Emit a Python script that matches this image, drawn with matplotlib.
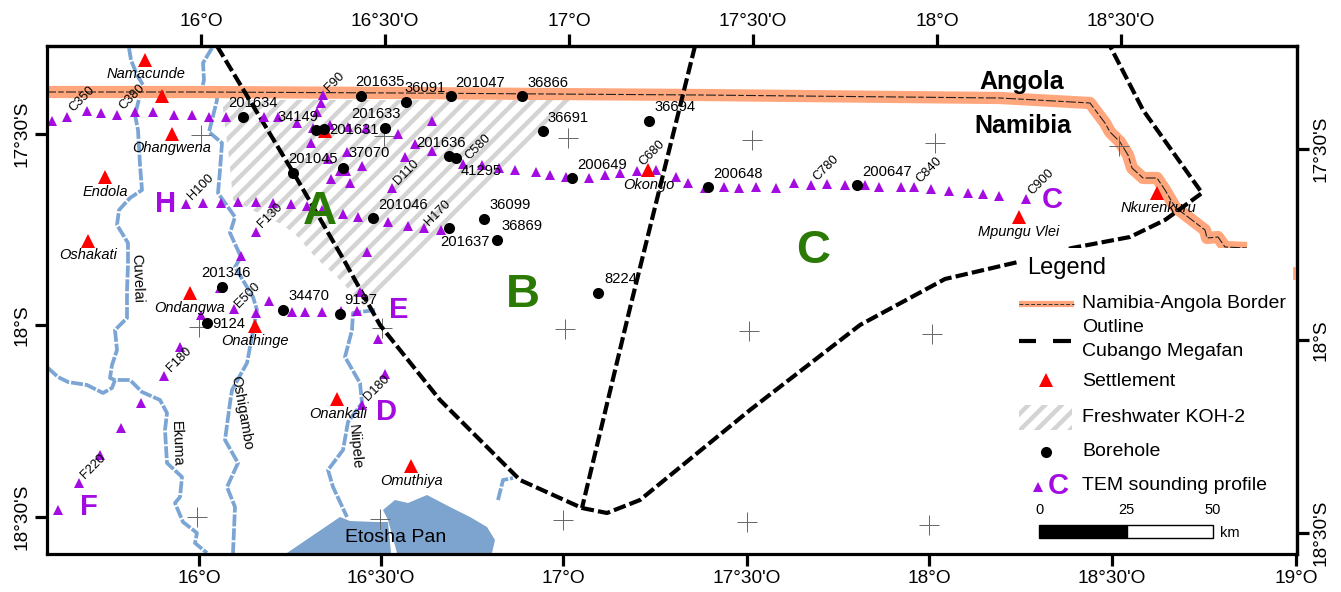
import matplotlib
matplotlib.use("Agg")
import matplotlib.pyplot as plt
from matplotlib.patches import Polygon, Rectangle

plt.rcParams['font.family'] = ['Liberation Sans', 'DejaVu Sans']
plt.rcParams['hatch.linewidth'] = 3.2

top_ticks = [201.5, 385, 569, 753, 937, 1121]
top_labels = ["16°O", "16°30'O", "17°O", "17°30'O", "18°O", "18°30'O"]
bottom_ticks = [199, 381, 563, 747, 929, 1112, 1296]
bottom_labels = ["16°O", "16°30'O", "17°O", "17°30'O", "18°O", "18°30'O", "19°O"]
left_ticks = [134, 325, 517]
right_ticks = [149, 340, 533]
lat_labels = ["17°30'S", "18°S", "18°30'S"]

grid_x = [201, 384, 568, 752, 935, 1119, 199, 382, 565, 749, 932, 197, 380, 563, 747, 929]
grid_y = [135, 136, 138, 140, 143, 146, 327, 328, 329, 331, 334, 517, 519, 520, 522, 525]

border_x = [46, 200, 400, 700, 1000, 1090, 1105, 1110, 1120, 1128, 1132, 1143, 1157, 1165, 1175, 1205, 1207, 1218, 1225, 1247]
border_y = [92, 92, 93, 95, 98, 103, 123, 132, 142, 155, 168, 178, 178, 190, 207, 230, 238, 237, 247, 248]

outline_x = [217, 293, 345, 380, 440, 520, 582, 607, 640, 750, 860, 945, 1018, 1072, 1130, 1165, 1202, 1143, 1110]
outline_y = [46, 172, 262, 325, 400, 480, 508, 513, 500, 410, 325, 279, 262, 248, 237, 220, 193, 110, 46]
outline2_x = [695, 660, 630, 582]
outline2_y = [46, 187, 308, 508]

cuvelai_x = [129, 131, 137, 143, 140, 135, 138, 140, 142, 130, 119, 117, 128, 128, 127, 127, 115, 117, 112, 110, 115]
cuvelai_y = [48, 60, 75, 85, 95, 115, 130, 165, 190, 198, 210, 225, 243, 265, 290, 318, 330, 350, 365, 378, 380]
ekuma_x = [48, 58, 68, 87, 103, 112, 115, 130, 142, 160, 167, 165, 167, 182, 180, 175, 183, 197, 195, 207]
ekuma_y = [368, 377, 382, 385, 393, 388, 380, 380, 392, 400, 413, 430, 463, 477, 497, 503, 522, 533, 543, 553]
oshigambo_x = [212, 203, 204, 202, 217, 217, 209, 222, 220, 218, 235, 230, 241, 235, 253, 257, 250, 247, 232, 230, 225, 238, 227, 235, 233]
oshigambo_y = [48, 63, 80, 88, 97, 100, 132, 143, 170, 193, 217, 233, 257, 267, 297, 310, 347, 363, 390, 403, 440, 463, 487, 507, 553]
niipele_x = [375, 353, 352, 345, 360, 362, 348, 343, 328, 333, 347]
niipele_y = [310, 313, 330, 357, 383, 403, 422, 450, 470, 487, 517]
pan_river_x = [498, 503, 513]
pan_river_y = [500, 480, 478]

hatch_x = [222, 578, 365, 337, 315, 298, 283, 252, 233, 230]
hatch_y = [100, 100, 307, 277, 257, 237, 225, 210, 200, 167]
pan1_x = [287, 340, 350, 375, 388, 391]
pan1_y = [553, 517, 521, 522, 522, 553]
pan2_x = [383, 395, 408, 427, 450, 470, 487, 495, 492, 397, 388]
pan2_y = [510, 500, 503, 495, 507, 517, 527, 540, 553, 553, 520]

tem_x = [52, 67, 87, 101, 117, 135, 153, 174, 192, 209, 226, 264, 278, 297, 313, 330, 348, 366, 398, 415, 432,
         323, 321, 317, 311, 328, 347, 432, 362, 405, 340, 346, 331, 350, 392,
         186, 203, 221, 238, 256, 273, 291, 307, 322, 343, 358, 388, 408, 424, 441,
         256, 367, 241, 360, 220, 269, 234, 201, 256, 292, 305, 322, 341, 357, 378, 385, 362,
         180, 164, 141, 121, 100, 79, 58,
         463, 482, 499, 515, 536, 550, 566, 589, 605, 620, 637, 656, 676, 688, 705, 724, 739, 756, 776,
         794, 811, 827, 845, 865, 879, 901, 914, 931, 949, 968, 983, 999, 1026]
tem_y = [121, 117, 111, 113, 115, 112, 112, 115, 115, 117, 117, 117, 117, 123, 128, 125, 127, 128, 134, 144, 151,
         95, 103, 112, 143, 159, 152, 121, 166, 157, 171, 171, 179, 183, 188,
         204, 203, 203, 202, 202, 203, 204, 206, 210, 214, 217, 222, 226, 228, 230,
         232, 252, 256, 292, 288, 301, 309, 315, 313, 312, 312, 312, 311, 311, 339, 374, 405,
         347, 376, 403, 428, 455, 483, 510,
         164, 165, 168, 170, 172, 175, 177, 178, 175, 173, 171, 170, 177, 183, 188, 187, 188, 187, 188,
         183, 185, 184, 185, 185, 187, 187, 187, 189, 191, 193, 194, 196, 199]

town_names = ["Namacunde", "Ohangwena", "Endola", "Oshakati", "Ondangwa", "Onathinge", "Onankali", "Omuthiya",
              "Okongo", "Mpungu Vlei", "Nkurenkuru"]
town_x = [145, 172, 105, 88, 190, 255, 337, 411, 648, 1019, 1157]
town_y = [60, 134, 177, 241, 293, 326, 399, 466, 170, 217, 193]
town_lx = [146, 172, 105, 88, 190, 255, 338, 412, 649, 1019, 1158]
town_ly = [74, 148, 192, 255, 308, 341, 414, 481, 185, 232, 208]
extra_town_x = [162, 325]
extra_town_y = [96, 131]

bore_names = ["201635", "36091", "201047", "36866", "201634", "34149", "201633", "201631", "37070", "201045",
              "201636", "41295", "36691", "36694", "200649", "200648", "200647", "36099", "36869", "201637",
              "201046", "201346", "34470", "9197", "9124", "8224"]
bore_x = [361, 406, 451, 522, 243, 316, 385, 324, 343, 293, 449, 456, 543, 649, 572, 708, 857, 484, 497, 449,
          373, 222, 283, 340, 207, 598]
bore_y = [96, 102, 96, 96, 117, 130, 128, 129, 168, 173, 156, 158, 131, 121, 178, 187, 185, 219, 240, 228,
          218, 287, 310, 314, 323, 293]
bore_lx = [380, 425, 480, 548, 253, 298, 376, 354, 369, 313, 441, 481, 568, 675, 602, 738, 887, 510, 522, 465,
           403, 226, 309, 361, 229, 621]
bore_ly = [82, 88, 83, 83, 103, 117, 114, 130, 153, 159, 143, 171, 118, 107, 165, 174, 172, 205, 226, 242,
           205, 273, 296, 300, 324, 279]

profile_names = ["C350", "C380", "F90", "H100", "F130", "D110", "H170", "C580", "C680", "C780", "C840", "C900",
                 "E500", "F180", "F220", "D180"]
profile_x = [82, 132, 335, 201, 270, 406, 438, 478, 652, 826, 929, 1041, 248, 179, 93, 377]
profile_y = [99, 97, 82, 187, 215, 172, 213, 147, 153, 168, 170, 182, 295, 359, 466, 388]

river_names = ["Cuvelai", "Ekuma", "Oshigambo", "Niipele"]
river_lx = [137, 177, 242, 355]
river_ly = [278, 444, 413, 447]
river_rot = [-88, -88, -80, -85]

zone_names = ["A", "B", "C"]
zone_x = [320, 523, 813]
zone_y = [212, 295, 251]
line_names = ["H", "E", "D", "F", "C"]
line_x = [166, 399, 387, 89, 1052]
line_y = [204, 310, 412, 507, 200]

scale_ticks = [0, 25, 50]
scale_x = [1039, 1126, 1213]

orange = '#FFA67C'
water = '#7BA5D5'
purple = '#A30BE0'
green = '#2A7A05'
hatch_col = '#D4D4D4'

fig = plt.figure(figsize=(13.41, 5.92), dpi=100)
ax = fig.add_axes([46.5 / 1341, 1 - 554 / 592, (1297 - 46.5) / 1341, (554 - 46) / 592])
ax.set_xlim(46.5, 1297)
ax.set_ylim(554, 46)

ax.plot(border_x, border_y, color=orange, lw=8.8, solid_capstyle='butt', solid_joinstyle='round', zorder=2)
ax.plot(border_x, border_y, color='#222222', lw=0.8, dashes=(9, 2, 5, 2), zorder=2.1)

ax.add_patch(Polygon(list(zip(pan1_x, pan1_y)), facecolor='#7DA3CF', edgecolor='none', zorder=1))
ax.add_patch(Polygon(list(zip(pan2_x, pan2_y)), facecolor='#7DA3CF', edgecolor='none', zorder=1))
ax.add_patch(Polygon(list(zip(hatch_x, hatch_y)), facecolor='none', edgecolor=hatch_col, hatch='//', lw=0, zorder=1.2))

for rx, ry in [(cuvelai_x, cuvelai_y), (ekuma_x, ekuma_y), (oshigambo_x, oshigambo_y),
               (niipele_x, niipele_y), (pan_river_x, pan_river_y)]:
    ax.plot(rx, ry, color=water, lw=2.7, dashes=(3.2, 0.5), zorder=1.5)

ax.plot(grid_x, grid_y, ls='none', marker='+', ms=14.5, mew=0.7, color='#666666', zorder=2.2)

ax.plot(outline_x, outline_y, color='k', lw=3, dashes=(3, 1), zorder=3)
ax.plot(outline2_x, outline2_y, color='k', lw=3, dashes=(3, 1), zorder=3)

ax.plot(tem_x, tem_y, ls='none', marker='^', ms=7.5, color=purple, mew=0, zorder=4)
ax.plot(town_x + extra_town_x, town_y + extra_town_y, ls='none', marker='^', ms=10.5, color='#FF0000', mew=0, zorder=4.2)
ax.plot(bore_x, bore_y, ls='none', marker='o', ms=8, color='k', mew=0, zorder=4.4)

for name, x, y in zip(town_names, town_lx, town_ly):
    ax.text(x, y, name, fontsize=10.5, style='italic', ha='center', va='center', zorder=5)
for name, x, y in zip(bore_names, bore_lx, bore_ly):
    ax.text(x, y, name, fontsize=10.6, ha='center', va='center', zorder=5)
for name, x, y in zip(profile_names, profile_x, profile_y):
    ax.text(x, y, name, fontsize=9.3, rotation=45, ha='center', va='center', zorder=5)
for name, x, y, r in zip(river_names, river_lx, river_ly, river_rot):
    ax.text(x, y, name, fontsize=10.5, rotation=r, ha='center', va='center', zorder=5)
for name, x, y in zip(zone_names, zone_x, zone_y):
    ax.text(x, y, name, fontsize=34, fontweight='bold', color=green, ha='center', va='center', zorder=5)
for name, x, y in zip(line_names, line_x, line_y):
    ax.text(x, y, name, fontsize=21, fontweight='bold', color=purple, ha='center', va='center', zorder=5)

ax.text(1022, 82, "Angola", fontsize=18, fontweight='bold', ha='center', va='center', zorder=5)
ax.text(1023, 126, "Namibia", fontsize=18, fontweight='bold', ha='center', va='center', zorder=5)
ax.text(396, 537, "Etosha Pan", fontsize=14, ha='center', va='center', zorder=5)

# legend block, sits on white over the map
ax.add_patch(Rectangle((1020, 248), 270, 306, facecolor='w', edgecolor='none', zorder=6))
ax.plot([1294, 1294], [268, 278], color=orange, lw=2, zorder=2)
ax.text(1067, 268, "Legend", fontsize=17, ha='center', va='center', zorder=7)
ax.plot([1019, 1074], [304, 304], color=orange, lw=4.5, solid_capstyle='butt', zorder=7)
ax.plot([1019, 1074], [304, 304], color='#333333', lw=0.7, dashes=(4, 2), zorder=7.1)
ax.plot([1019, 1036], [341, 341], color='k', lw=3, solid_capstyle='butt', zorder=7)
ax.plot([1053, 1071], [341, 341], color='k', lw=3, solid_capstyle='butt', zorder=7)
ax.plot([1046], [380], marker='^', ms=10.5, color='#FF0000', mew=0, zorder=7)
ax.add_patch(Rectangle((1019, 405), 53, 25, facecolor='none', edgecolor=hatch_col, hatch='//', lw=0, zorder=7))
ax.plot([1046], [452], marker='o', ms=8, color='k', mew=0, zorder=7)
ax.plot([1038], [487], marker='^', ms=7.5, color=purple, mew=0, zorder=7)
ax.text(1058, 486, "C", fontsize=21, fontweight='bold', color=purple, ha='center', va='center', zorder=7)

legend_text = ["Namibia-Angola Border", "Outline", "Cubango Megafan", "Settlement", "Freshwater KOH-2", "Borehole",
               "TEM sounding profile"]
legend_y = [303, 328, 351, 381, 417, 452, 486]
for name, y in zip(legend_text, legend_y):
    ax.text(1082, y, name, fontsize=14, ha='left', va='center', zorder=7)

for t, x in zip(scale_ticks, scale_x):
    ax.text(x, 510, str(t), fontsize=10.5, ha='center', va='center', zorder=7)
ax.add_patch(Rectangle((1039, 525), 88, 13, facecolor='k', edgecolor='k', lw=1, zorder=7))
ax.add_patch(Rectangle((1127, 525), 86, 13, facecolor='w', edgecolor='k', lw=1, zorder=7))
ax.text(1220, 533, "km", fontsize=10.5, ha='left', va='center', zorder=7)

for s in ax.spines.values():
    s.set_linewidth(2.3)
    s.set_zorder(8)

ax.set_xticks(bottom_ticks)
ax.set_xticklabels(bottom_labels, fontsize=13.7)
ax.set_yticks(left_ticks)
ax.set_yticklabels(lat_labels, fontsize=13.7, rotation=90, va='center')
ax.tick_params(length=8.5, width=2.3, pad=3)

top = ax.secondary_xaxis('top')
top.set_xticks(top_ticks)
top.set_xticklabels(top_labels, fontsize=13.7)
top.tick_params(length=8.5, width=2.3, pad=3)
right = ax.secondary_yaxis('right')
right.set_yticks(right_ticks)
right.set_yticklabels(lat_labels, fontsize=13.7, rotation=90, va='center')
right.tick_params(length=8.5, width=2.3, pad=3)
top.spines['top'].set_linewidth(2.3)
right.spines['right'].set_linewidth(2.3)

fig.savefig("out.png", dpi=100)
